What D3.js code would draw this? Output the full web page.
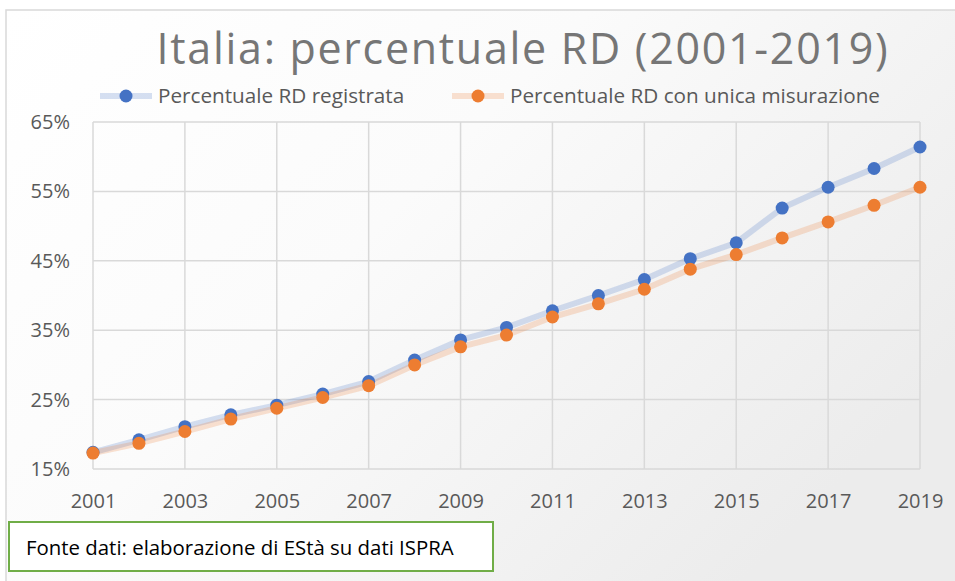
<!DOCTYPE html>
<html>
<head>
<meta charset="utf-8">
<script src="https://cdn.jsdelivr.net/npm/d3@7"></script>
<style>
  body { margin: 0; background: #fff; }
  text { font-family: "Open Sans", sans-serif; }
</style>
</head>
<body>
<script>
const years = [2001, 2002, 2003, 2004, 2005, 2006, 2007, 2008, 2009, 2010,
               2011, 2012, 2013, 2014, 2015, 2016, 2017, 2018, 2019];
const registrata = [17.4, 19.2, 21.1, 22.8, 24.2, 25.8, 27.6, 30.7, 33.6, 35.4,
                    37.8, 40.0, 42.3, 45.3, 47.6, 52.6, 55.6, 58.3, 61.4];
const unica = [17.3, 18.7, 20.4, 22.2, 23.75, 25.3, 27.0, 30.0, 32.6, 34.3,
               36.9, 38.8, 40.9, 43.8, 45.9, 48.3, 50.6, 53.0, 55.6];
const yTicks = [15, 25, 35, 45, 55, 65];
const xTicks = [2001, 2003, 2005, 2007, 2009, 2011, 2013, 2015, 2017, 2019];
const seriesNames = ["Percentuale RD registrata", "Percentuale RD con unica misurazione"];
const title = "Italia: percentuale RD (2001-2019)";
const fonte = "Fonte dati: elaborazione di EStà su dati ISPRA";

const W = 955, H = 581;
const svg = d3.select('body')
            .append('svg')
            .attr('width', W)
            .attr('height', H)

// background
const defs = svg.append("defs");
const grad = defs.append("linearGradient")
  .attr("id", "bg")
  .attr("x1", "0%").attr("y1", "0%")
  .attr("x2", "100%").attr("y2", "60%");
grad.append("stop").attr("offset", "0%").attr("stop-color", "#ffffff");
grad.append("stop").attr("offset", "45%").attr("stop-color", "#fbfbfb");
grad.append("stop").attr("offset", "100%").attr("stop-color", "#ececec");

svg.append("rect")
  .attr("x", 6).attr("y", 10)
  .attr("width", W).attr("height", H)
  .attr("fill", "url(#bg)")
  .attr("stroke", "#d9d9d9")
  .attr("stroke-width", 1.5);

const x = d3.scaleLinear().domain([2001, 2019]).range([93, 920]);
const y = d3.scaleLinear().domain([15, 65]).range([469, 122]);

// gridlines
const grid = svg.append("g");
grid.selectAll(".hg")
  .data(yTicks)
  .enter()
  .append("line")
  .attr("x1", x(2001)).attr("x2", x(2019))
  .attr("y1", d => y(d)).attr("y2", d => y(d))
  .attr("stroke", "#d9d9d9").attr("stroke-width", 1.5);
grid.selectAll(".vg")
  .data(xTicks)
  .enter()
  .append("line")
  .attr("x1", d => x(d)).attr("x2", d => x(d))
  .attr("y1", y(65)).attr("y2", y(15))
  .attr("stroke", "#d9d9d9").attr("stroke-width", 1.5);

// axes
const yAxis = svg.append("g")
  .attr("transform", `translate(${x(2001)},0)`)
  .call(d3.axisLeft(y).tickValues(yTicks).tickSize(0).tickPadding(23).tickFormat(d => d + "%"));
yAxis.select(".domain").remove();
yAxis.selectAll("text")
  .style("font-size", "20px")
  .style("font-family", "Open Sans")
  .attr("fill", "#595959");

const xAxis = svg.append("g")
  .attr("transform", `translate(0,${y(15)})`)
  .call(d3.axisBottom(x).tickValues(xTicks).tickSize(0).tickPadding(25).tickFormat(d3.format("d")));
xAxis.select(".domain").remove();
xAxis.selectAll("text")
  .style("font-size", "20px")
  .style("font-family", "Open Sans")
  .attr("fill", "#595959");

// series
const series = [
  { name: seriesNames[0], values: registrata, color: "#4472C4" },
  { name: seriesNames[1], values: unica, color: "#ED7D31" }
];

const line = d3.line()
  .x((d, i) => x(years[i]))
  .y(d => y(d));

series.forEach(s => {
  svg.append("path")
    .attr("d", line(s.values))
    .attr("fill", "none")
    .attr("stroke", s.color)
    .attr("stroke-opacity", 0.22)
    .attr("stroke-width", 6)
    .attr("stroke-linejoin", "round");
});
series.forEach(s => {
  svg.append("g")
    .selectAll("circle")
    .data(s.values)
    .enter()
    .append("circle")
    .attr("cx", (d, i) => x(years[i]))
    .attr("cy", d => y(d))
    .attr("r", 6.5)
    .attr("fill", s.color);
});

// title
svg.append("text")
  .attr("x", 523)
  .attr("y", 64)
  .attr("text-anchor", "middle")
  .style("font-size", "43px")
  .style("letter-spacing", "1.7px")
  .attr("fill", "#767676")
  .text(title);

// legend
const legendPos = [{ x: 100, tx: 158 }, { x: 452, tx: 510 }];
series.forEach((s, i) => {
  const lg = svg.append("g").attr("transform", `translate(${legendPos[i].x},96)`);
  lg.append("line")
    .attr("x1", 0).attr("x2", 52)
    .attr("y1", 0).attr("y2", 0)
    .attr("stroke", s.color)
    .attr("stroke-opacity", 0.22)
    .attr("stroke-width", 6);
  lg.append("circle").attr("cx", 26).attr("cy", 0).attr("r", 6.5).attr("fill", s.color);
  svg.append("text")
    .attr("x", legendPos[i].tx)
    .attr("y", 96)
    .attr("dy", "0.35em")
    .style("font-size", "20.7px")
    .attr("fill", "#595959")
    .text(s.name);
});

// source box
svg.append("rect")
  .attr("x", 9).attr("y", 522)
  .attr("width", 484).attr("height", 49)
  .attr("fill", "#ffffff")
  .attr("stroke", "#70AD47")
  .attr("stroke-width", 2);
svg.append("text")
  .attr("x", 26)
  .attr("y", 548)
  .attr("dy", "0.35em")
  .style("font-size", "20.4px")
  .attr("fill", "#000")
  .text(fonte);
</script>
</body>
</html>
